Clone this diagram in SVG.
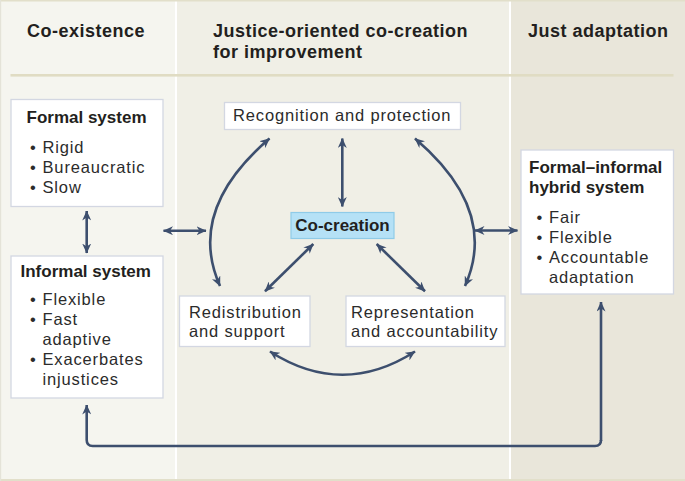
<svg xmlns="http://www.w3.org/2000/svg" width="685" height="481" viewBox="0 0 685 481">
<defs>
<style>
.hdr{font-family:"Liberation Sans",Arial,sans-serif;font-weight:700;font-size:18px;letter-spacing:0.5px;fill:#231f20}
.ttl{font-family:"Liberation Sans",Arial,sans-serif;font-weight:700;font-size:17px;fill:#231f20}
.txt{font-family:"Liberation Sans",Arial,sans-serif;font-size:16.5px;letter-spacing:0.85px;fill:#2b2b2b}
.box{fill:#ffffff;stroke:#d3d7e2;stroke-width:1.3}
.con{fill:none;stroke:#3d4f6e;stroke-width:2.6;stroke-linecap:butt}
.two{marker-start:url(#ah);marker-end:url(#ah)}
.one{marker-end:url(#ah)}
</style>
<marker id="ah" viewBox="0 0 10 9" refX="9.5" refY="4.5" markerWidth="10" markerHeight="9" markerUnits="userSpaceOnUse" orient="auto-start-reverse">
<path d="M0,0 L10,4.5 L0,9 L3,4.5 Z" fill="#3d4f6e"/>
</marker>
</defs>
<!-- backgrounds -->
<rect x="0" y="0" width="685" height="481" fill="#ffffff"/>
<rect x="0" y="0" width="175" height="481" fill="#f5f5ef"/>
<rect x="177" y="0" width="332" height="481" fill="#f0efe6"/>
<rect x="511" y="0" width="174" height="481" fill="#e9e6da"/>
<rect x="0" y="0" width="685" height="1.5" fill="#e2dfca"/>
<rect x="0" y="479" width="685" height="2" fill="#e2dfca"/>
<rect x="0" y="0" width="1.2" height="481" fill="#e4e3d8"/>
<rect x="10.5" y="74" width="663" height="2.6" fill="#e0dcc3"/>
<!-- headers -->
<g id="headers">
<text class="hdr" x="27" y="37">Co-existence</text>
<text class="hdr" x="213" y="37">Justice-oriented co-creation</text>
<text class="hdr" x="213" y="58">for improvement</text>
<text class="hdr" x="528" y="37">Just adaptation</text>
</g>
<!-- nodes -->
<g id="formal">
<rect class="box" x="11" y="99.5" width="152" height="107"/>
<text class="ttl" x="26.5" y="123">Formal system</text>
<text class="txt" x="30" y="152.5">•</text><text class="txt" x="42.5" y="152.5">Rigid</text>
<text class="txt" x="30" y="172.5">•</text><text class="txt" x="42.5" y="172.5">Bureaucratic</text>
<text class="txt" x="30" y="192.5">•</text><text class="txt" x="42.5" y="192.5">Slow</text>
</g>
<g id="informal">
<rect class="box" x="11" y="256" width="152" height="142"/>
<text class="ttl" x="20.5" y="276.5">Informal system</text>
<text class="txt" x="30" y="305">•</text><text class="txt" x="42.5" y="305">Flexible</text>
<text class="txt" x="30" y="325">•</text><text class="txt" x="42.5" y="325">Fast</text>
<text class="txt" x="42.5" y="345">adaptive</text>
<text class="txt" x="30" y="365">•</text><text class="txt" x="42.5" y="365">Exacerbates</text>
<text class="txt" x="42.5" y="385">injustices</text>
</g>
<g id="recognition">
<rect class="box" x="224.5" y="102.5" width="236" height="27"/>
<text class="txt" x="233" y="120.5">Recognition and protection</text>
</g>
<g id="cocreation">
<rect x="291" y="212.5" width="103" height="26" fill="#b5e1f6" stroke="#8fcbe8" stroke-width="1.2"/>
<text class="ttl" x="342.5" y="230.5" text-anchor="middle" font-size="16">Co-creation</text>
</g>
<g id="redistribution">
<rect class="box" x="179.5" y="296" width="130.5" height="50.5"/>
<text class="txt" x="189" y="317.5">Redistribution</text>
<text class="txt" x="189" y="336.5">and support</text>
</g>
<g id="representation">
<rect class="box" x="346" y="296" width="159" height="50.5"/>
<text class="txt" x="351" y="317.5">Representation</text>
<text class="txt" x="351" y="336.5">and accountability</text>
</g>
<g id="hybrid">
<rect class="box" x="521" y="150" width="152.5" height="144"/>
<text class="ttl" x="529" y="172.5">Formal–informal</text>
<text class="ttl" x="529" y="193">hybrid system</text>
<text class="txt" x="536.5" y="223">•</text><text class="txt" x="549" y="223">Fair</text>
<text class="txt" x="536.5" y="243">•</text><text class="txt" x="549" y="243">Flexible</text>
<text class="txt" x="536.5" y="263">•</text><text class="txt" x="549" y="263">Accountable</text>
<text class="txt" x="549" y="283">adaptation</text>
</g>
<!-- connectors -->
<g id="connectors">
<path class="con two" d="M86.7,211 L86.7,253"/>
<path class="con two" d="M163.5,230.7 L206,230.7"/>
<path class="con two" d="M475,230.5 L517.5,230.5"/>
<path class="con two" d="M342.3,138.5 L342.3,206.5"/>
<path class="con two" d="M313.3,244 L265,291.3"/>
<path class="con two" d="M376.7,244 L425,291.3"/>
<path class="con two" d="M269.5,138.5 Q186,210 220,286"/>
<path class="con two" d="M415,138.5 Q499,210 465,286"/>
<path class="con two" d="M270,351.5 Q342.5,398 415,351.5"/>
<path class="con one" d="M601,440 Q601,446 595,446 L92.7,446 Q86.7,446 86.7,440 L86.7,405"/>
<path class="con one" d="M601,441 L601,302"/>
</g>
</svg>
